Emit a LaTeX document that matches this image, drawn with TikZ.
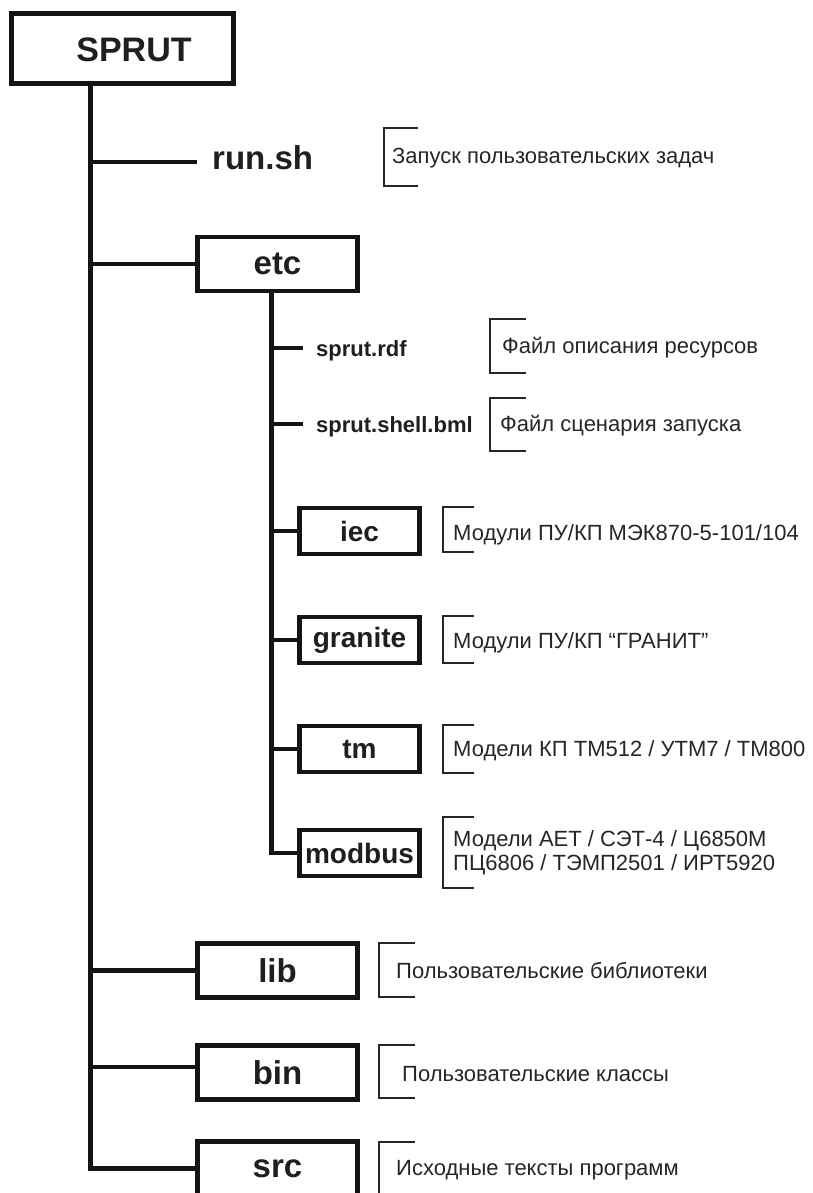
\documentclass[tikz,border=0pt]{standalone}
\usepackage{fontspec}
\setmainfont{Liberation Sans}
\tikzset{
  conn/.style={line width=4.8pt, draw=black!92},
  bigbox/.style={draw=black!92, line width=4.6pt, minimum width=160.5pt, minimum height=54pt, inner sep=0pt, font=\fontsize{33}{36}\selectfont\bfseries, text=black!88},
  smallbox/.style={draw=black!92, line width=4.6pt, minimum width=120.5pt, minimum height=46pt, inner sep=0pt, font=\fontsize{28}{30}\selectfont\bfseries, text=black!88},
  filename/.style={anchor=base west, inner sep=0pt, font=\fontsize{22}{24}\selectfont\bfseries, text=black!88},
  desc/.style={anchor=base west, inner sep=0pt, font=\fontsize{22}{24}\selectfont, text=black!85},
  brk/.style={draw=black!85, line width=2pt}
}
\begin{document}
\begin{tikzpicture}[x=1pt, y=-1pt]
\useasboundingbox[fill=white] (0,0) rectangle (813,1193);
% root
\node[draw=black!92, line width=4.6pt, minimum width=222.5pt, minimum height=70.5pt, inner sep=0pt] (sprut) at (122.5,48.5) {};
\node[font=\fontsize{34}{36}\selectfont\bfseries, text=black!88, inner sep=0pt] (sprutlabel) at (134,50) {SPRUT};
\coordinate (t0) at (90.5,84);
% level 1
\node[filename, font=\fontsize{33}{36}\selectfont\bfseries] (runsh) at (212,170) {run.sh};
\coordinate (runend) at (197,162);
\node[bigbox] (etc) at (277.5,264) {etc};
\node[bigbox] (lib) at (277.5,970.5) {lib};
\node[bigbox] (bin) at (277.5,1072.5) {bin};
\node[bigbox] (src) at (277.5,1168.5) {src};
\coordinate (binj) at ([yshift=5.5pt]bin.west);
% level 2
\coordinate (s0) at (271.7,290.75);
\node[filename] (rdf) at (316,356) {sprut.rdf};
\coordinate (rdfend) at (303,348);
\node[filename] (shell) at (316,432) {sprut.shell.bml};
\coordinate (shellend) at (303,424);
\node[smallbox] (iec) at (359.5,531) {iec};
\node[smallbox] (granite) at (359.5,640) {granite};
\node[smallbox] (tm) at (359.5,749) {tm};
\node[smallbox] (modbus) at (359.5,853) {modbus};
% connectors
\draw[conn] (t0) |- (src.west);
\draw[conn] (t0 |- runend) -- (runend);
\draw[conn] (t0 |- etc.west) -- (etc.west);
\draw[conn] (t0 |- lib.west) -- (lib.west);
\draw[conn] (t0 |- binj) -- (binj);
\draw[conn] (s0) |- (modbus.west);
\draw[conn] (s0 |- rdfend) -- (rdfend);
\draw[conn] (s0 |- shellend) -- (shellend);
\draw[conn] (s0 |- iec.west) -- (iec.west);
\draw[conn] (s0 |- granite.west) -- (granite.west);
\draw[conn] (s0 |- tm.west) -- (tm.west);
% descriptions
\node[desc] (d1) at (392,163.3) {Запуск пользовательских задач};
\node[desc] (d2) at (502,353.3) {Файл описания ресурсов};
\node[desc] (d3) at (500,431.7) {Файл сценария запуска};
\node[desc] (d4) at (453,540) {Модули ПУ/КП МЭК870-5-101/104};
\node[desc] (d5) at (453,648) {Модули ПУ/КП “ГРАНИТ”};
\node[desc] (d6) at (453,756.7) {Модели КП ТМ512 / УТМ7 / ТМ800};
\node[desc] (d7a) at (453,846.5) {Модели АЕТ / СЭТ-4 / Ц6850М};
\node[desc] (d7b) at (453,870.5) {ПЦ6806 / ТЭМП2501 / ИРТ5920};
\node[desc] (d8) at (396,978) {Пользовательские библиотеки};
\node[desc] (d9) at (402,1081.7) {Пользовательские классы};
\node[desc] (d10) at (396,1175) {Исходные тексты программ};
% brackets
\draw[brk] (418,128) -- (384,128) -- (384,186) -- (418,186);
\draw[brk] (526,319) -- (490,319) -- (490,373) -- (526,373);
\draw[brk] (526,398) -- (490,398) -- (490,451) -- (526,451);
\draw[brk] (474,507) -- (443,507) -- (443,552) -- (474,552);
\draw[brk] (474,616) -- (443,616) -- (443,663) -- (474,663);
\draw[brk] (474,725) -- (443,725) -- (443,773) -- (474,773);
\draw[brk] (474,817) -- (443,817) -- (443,888) -- (474,888);
\draw[brk] (415,943) -- (379,943) -- (379,997) -- (415,997);
\draw[brk] (415,1045) -- (379,1045) -- (379,1098) -- (415,1098);
\draw[brk] (415,1142) -- (379,1142) -- (379,1205);
\end{tikzpicture}
\end{document}
